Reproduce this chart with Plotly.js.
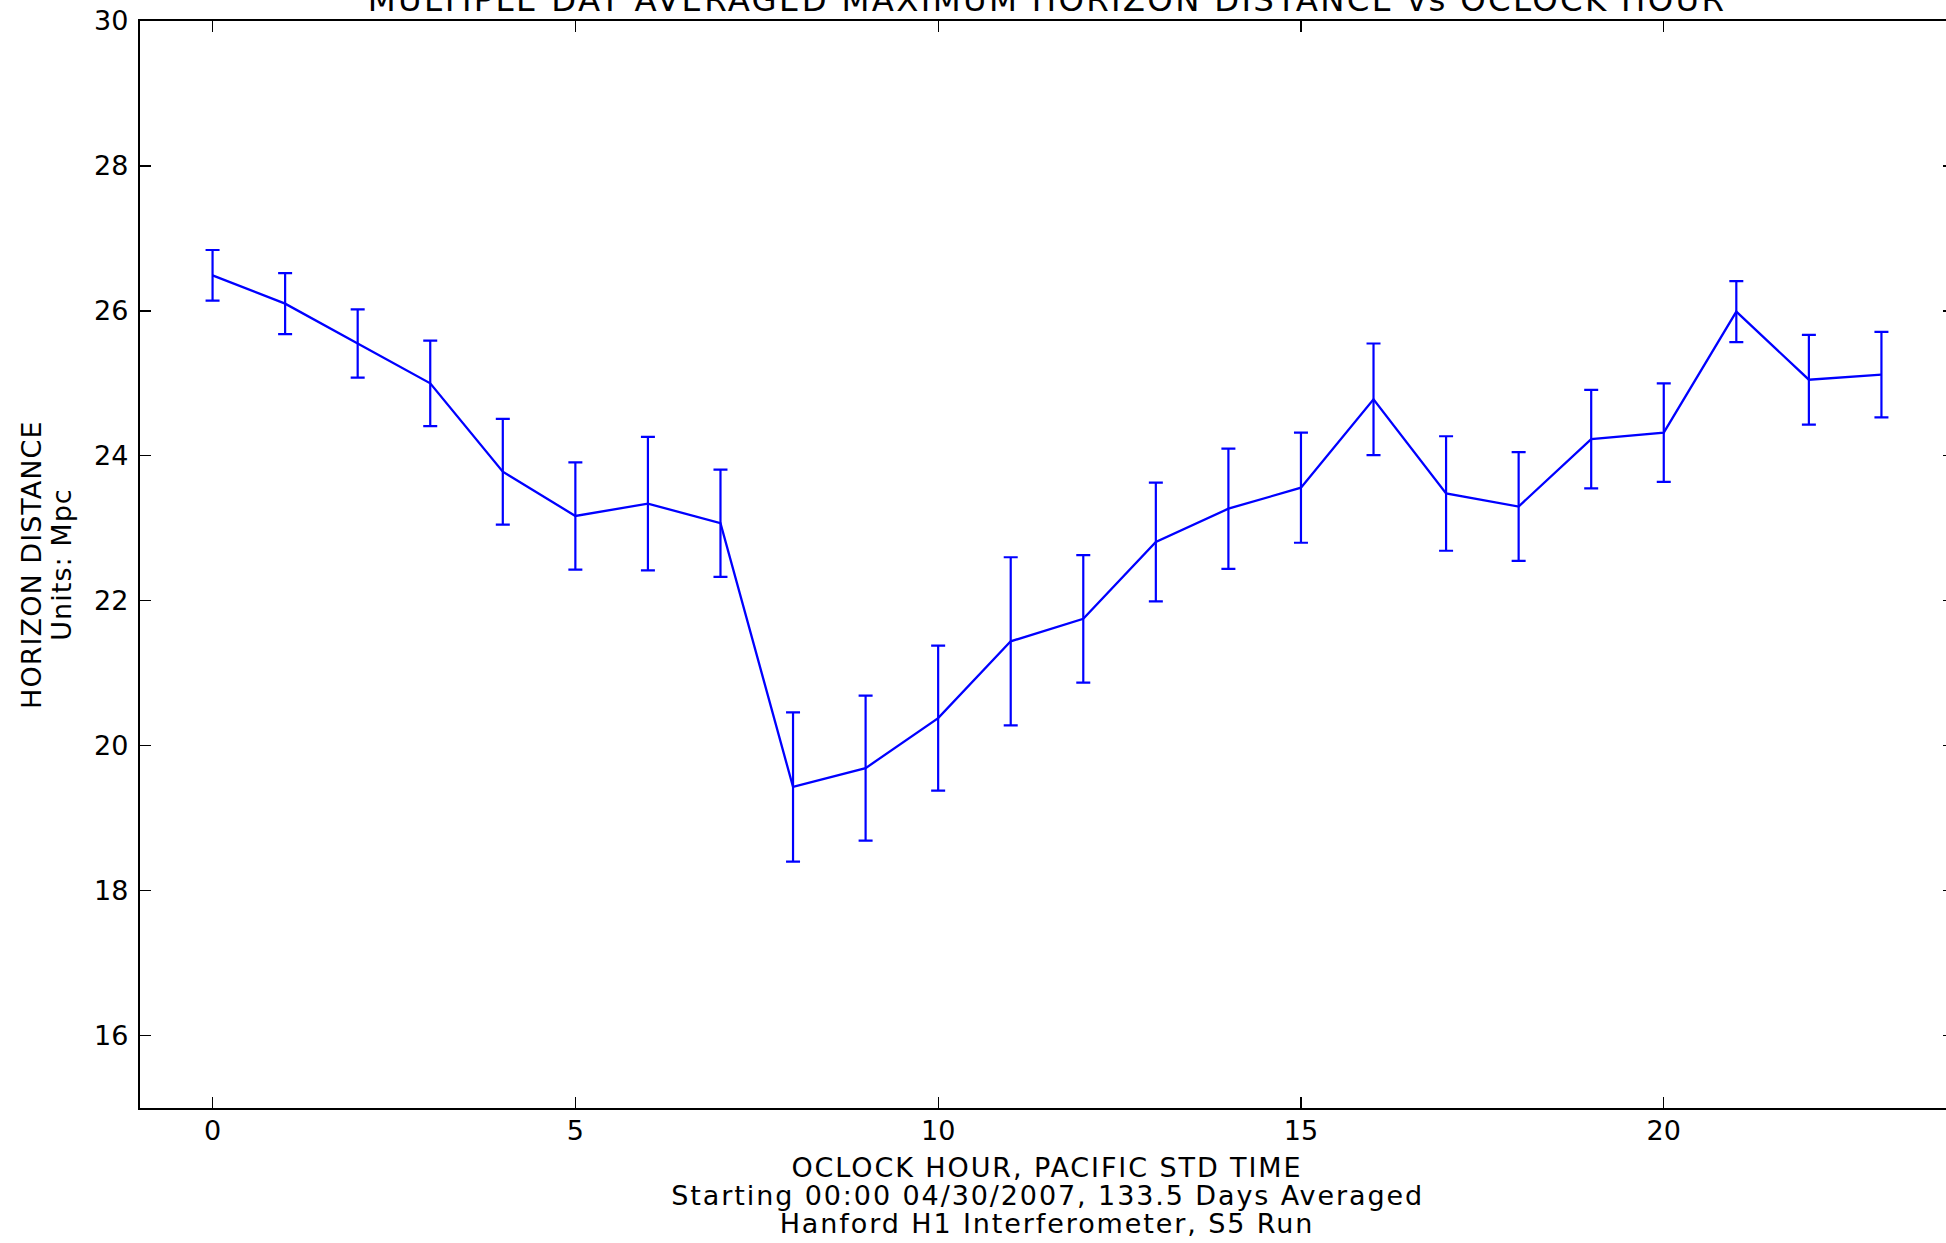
<!DOCTYPE html>
<html>
<head>
<meta charset="utf-8">
<script src="https://cdn.plot.ly/plotly-3.0.1.min.js"></script>
<style>
html, body { margin: 0; padding: 0; overflow: hidden; background: #fff; }
#chart { width: 1960px; height: 1243px; }
.xlab .annotation-text { letter-spacing: 1.9px; }
.ylab .annotation-text { letter-spacing: 1.05px; }
.gtitle { letter-spacing: 2.3px; }
</style>
</head>
<body>
<div id="chart"></div>
<script>
const hours = [0,1,2,3,4,5,6,7,8,9,10,11,12,13,14,15,16,17,18,19,20,21,22,23];
const horizonDistance = [26.49,26.10,25.55,25.00,23.78,23.17,23.34,23.07,19.43,19.69,20.38,21.44,21.75,22.81,23.27,23.56,24.78,23.48,23.30,24.23,24.32,25.99,25.05,25.12];
const errorMpc = [0.35,0.42,0.47,0.59,0.73,0.74,0.92,0.74,1.03,1.00,1.00,1.16,0.88,0.82,0.83,0.76,0.77,0.79,0.75,0.68,0.68,0.42,0.62,0.59];
const xTicks = [0,5,10,15,20];
const yTicks = [16,18,20,22,24,26,28,30];

const titleText = 'MULTIPLE DAY AVERAGED MAXIMUM HORIZON DISTANCE vs OCLOCK HOUR';
const xLabelLines = ['OCLOCK HOUR, PACIFIC STD TIME', 'Starting 00:00 04/30/2007, 133.5 Days Averaged', 'Hanford H1 Interferometer, S5 Run'];
const yLabelLines = ['HORIZON DISTANCE', 'Units: Mpc'];

const FONT = 'DejaVu Sans, sans-serif';
const FS = 27;

const trace = {
  x: hours,
  y: horizonDistance,
  type: 'scatter',
  mode: 'lines',
  line: { color: '#0000ff', width: 2.3 },
  error_y: { type: 'data', array: errorMpc, visible: true, color: '#0000ff', thickness: 2.2, width: 7 },
  hoverinfo: 'x+y'
};

const annotations = [];
const xOffsets = [59, 87, 115];
xLabelLines.forEach((t, i) => {
  annotations.push({ text: t, name: 'xlab', xref: 'paper', yref: 'paper', x: 0.5, y: 0, xanchor: 'center', yanchor: 'middle', yshift: -xOffsets[i], showarrow: false, font: { family: FONT, size: FS, color: '#000' } });
});
const yOffsets = [109, 79];
yLabelLines.forEach((t, i) => {
  annotations.push({ text: t, name: 'ylab', xref: 'paper', yref: 'paper', x: 0, y: 0.5, xanchor: 'center', yanchor: 'middle', xshift: -yOffsets[i], textangle: -90, showarrow: false, font: { family: FONT, size: FS, color: '#000' } });
});

const layout = {
  width: 1960,
  height: 1243,
  margin: { l: 140, r: 6, t: 21, b: 135 },
  paper_bgcolor: '#fff',
  plot_bgcolor: '#fff',
  showlegend: false,
  font: { family: FONT, size: FS, color: '#000' },
  title: { text: titleText, font: { family: FONT, size: 32.4, color: '#000' }, x: 0.5, xref: 'paper', y: 1, yref: 'container', yanchor: 'middle' },
  xaxis: {
    range: [-1, 24], tickmode: 'array', tickvals: xTicks, ticktext: xTicks.map(String),
    ticks: 'inside', ticklen: 11, tickwidth: 1.3, tickcolor: '#000', ticklabelstandoff: -3,
    showline: true, linecolor: '#000', linewidth: 2.2, mirror: 'ticks',
    showgrid: false, zeroline: false, tickfont: { family: FONT, size: FS, color: '#000' }
  },
  yaxis: {
    range: [15, 30], tickmode: 'array', tickvals: yTicks, ticktext: yTicks.map(String),
    ticks: 'inside', ticklen: 11, tickwidth: 1.3, tickcolor: '#000', ticklabelstandoff: 4,
    showline: true, linecolor: '#000', linewidth: 2.2, mirror: 'ticks',
    showgrid: false, zeroline: false, tickfont: { family: FONT, size: FS, color: '#000' }
  },
  annotations: annotations
};

Plotly.newPlot('chart', [trace], layout, { displayModeBar: false, staticPlot: true }).then(gd => {
  // tag annotation groups so letter-spacing CSS applies per label group
  const groups = gd.querySelectorAll('.annotation');
  groups.forEach((g, i) => {
    const a = gd.layout.annotations[i];
    if (a && a.name) g.classList.add(a.name);
  });
});
</script>
</body>
</html>
